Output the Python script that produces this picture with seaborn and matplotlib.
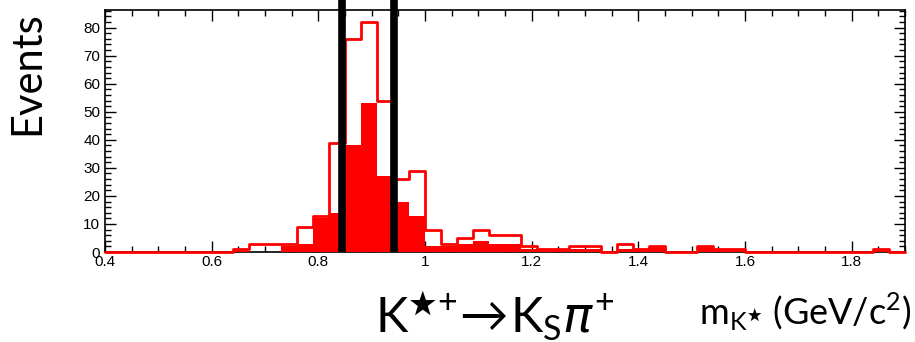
import numpy as np
import pandas as pd
import matplotlib
matplotlib.use("Agg")
import matplotlib.pyplot as plt
import seaborn as sns
from matplotlib.ticker import MultipleLocator

# ---- data ----
bin_lo, bin_hi, bin_w = 0.4, 1.9, 0.03          # 50 bins
bin_centers = np.round(np.arange(bin_lo + bin_w / 2, bin_hi, bin_w), 3)

total_counts = [0, 0, 0, 0, 0, 0, 0, 0, 1, 3,
                3, 3, 9, 13, 39, 76, 82, 54, 26, 29,
                8, 3, 5, 8, 6, 6, 2, 1, 1, 2,
                2, 0, 3, 1, 2, 0, 0, 2, 1, 1,
                0, 0, 0, 0, 0, 0, 0, 0, 1, 0]
signal_counts = [0, 0, 0, 0, 0, 0, 0, 0, 1, 0,
                 0, 2, 3, 12, 14, 38, 53, 27, 18, 13,
                 2, 2, 3, 4, 3, 3, 1, 1, 1, 1,
                 1, 0, 1, 1, 2, 0, 0, 2, 1, 1,
                 0, 0, 0, 0, 0, 0, 0, 0, 1, 0]
cut_lines = [0.845, 0.942]
x_ticks = [0.4, 0.6, 0.8, 1.0, 1.2, 1.4, 1.6, 1.8]
x_tick_labels = ["0.4", "0.6", "0.8", "1", "1.2", "1.4", "1.6", "1.8"]
y_ticks = [0, 10, 20, 30, 40, 50, 60, 70, 80]

df = pd.DataFrame({"m": bin_centers, "total": total_counts, "signal": signal_counts})

sns.set_theme(style="white")
plt.rcParams["font.family"] = ["Liberation Sans", "DejaVu Sans"]
plt.rcParams["text.color"] = "black"
plt.rcParams["mathtext.fontset"] = "custom"
plt.rcParams["mathtext.rm"] = "Lato"
plt.rcParams["mathtext.it"] = "DejaVu Sans:italic"

fig = plt.figure(figsize=(9.15, 3.42), dpi=100)
ax = fig.add_axes([105 / 915, 1 - 252 / 342, 800 / 915, 242 / 342])

red = "#ff0000"
sns.histplot(data=df, x="m", weights="signal", binwidth=bin_w, binrange=(bin_lo, bin_hi),
             element="step", fill=True, color=red, alpha=1.0, linewidth=0, ax=ax)
n_coll = len(ax.collections) + len(ax.patches)
sns.histplot(data=df, x="m", weights="total", binwidth=bin_w, binrange=(bin_lo, bin_hi),
             element="step", fill=False, color=red, linewidth=2.0, ax=ax)

for art in list(ax.collections) + list(ax.patches):
    art.set_zorder(3)
for ln in ax.lines:
    ln.set_zorder(4)
    ln.set_clip_on(False)

for xc in cut_lines:
    ax.axvline(xc, ymin=0, ymax=252 / 242, color="black", lw=5.5,
               clip_on=False, zorder=5, solid_capstyle="butt")

ax.set_xlim(0.4, 1.9)
ax.set_ylim(0, 86.3)
ax.set_xticks(x_ticks)
ax.set_xticklabels(x_tick_labels)
ax.set_yticks(y_ticks)
ax.xaxis.set_minor_locator(MultipleLocator(0.05))
ax.yaxis.set_minor_locator(MultipleLocator(2))
ax.tick_params(which="both", direction="in", top=True, right=True,
               bottom=True, left=True, labelsize=11, colors="black")
ax.tick_params(axis="x", which="major", pad=2)
ax.tick_params(which="major", length=8, width=1.0)
ax.tick_params(which="minor", length=4, width=1.0)
for s in ax.spines.values():
    s.set_color("black")
    s.set_linewidth(1.2)
    s.set_zorder(2)
ax.set_xlabel("")
ax.set_ylabel("")

fig.text(27 / 915, 1 - 73 / 342, "Events", rotation=90, ha="center", va="center",
         fontsize=30, family=["Lato", "DejaVu Sans"], color="black")
fig.text(495 / 915, 1 - 333 / 342,
         r"$\mathrm{K}^{{\bigstar}{+}}\!\rightarrow\!\mathrm{K}_{\mathrm{S}}\pi^{+}$",
         ha="center", va="baseline", fontsize=35, color="black")
fig.text(0.996, 1 - 325 / 342, r"m$_{\mathrm{K}^{\bigstar}}$ (GeV/c$^{2}$)",
         ha="right", va="baseline", fontsize=26, family=["Lato", "DejaVu Sans"],
         color="black")

fig.savefig("out.png", dpi=100)
